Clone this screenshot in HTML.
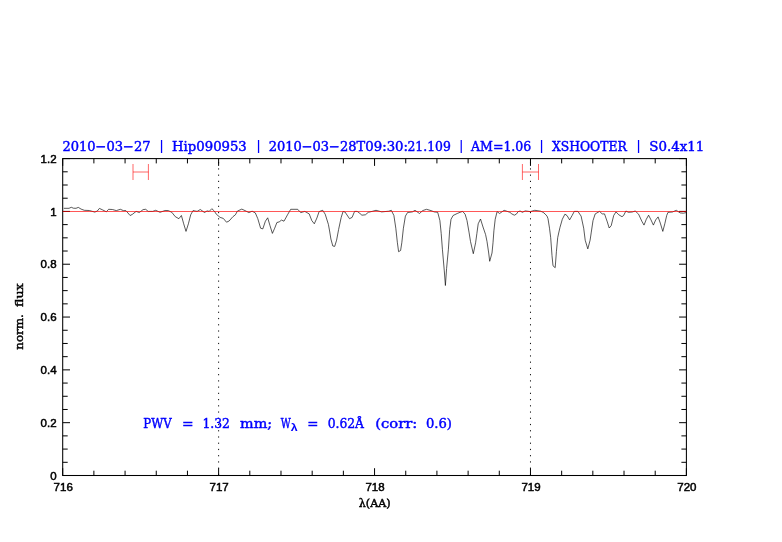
<!DOCTYPE html>
<html><head><meta charset="utf-8"><title>plot</title>
<style>
html,body{margin:0;padding:0;background:#fff;}
svg{display:block;}
.tk text{font-family:"Liberation Sans",sans-serif;font-size:11.5px;fill:#000;stroke:#000;stroke-width:0.5px;}
.bl text{font-family:"DejaVu Serif","Liberation Serif",serif;font-size:13.1px;fill:#0000ff;stroke:#0000ff;stroke-width:0.45px;}
.bl text.bar{font-size:13.5px;stroke-width:0.15px;}
.ax text{font-family:"DejaVu Serif","Liberation Serif",serif;font-size:11.5px;fill:#000;stroke:#000;stroke-width:0.45px;}
</style></head><body>
<svg width="782" height="542" viewBox="0 0 782 542">
<rect width="782" height="542" fill="#fff"/>
<path d="M218.62,158.6 V475.5 M530.48,158.6 V475.5" stroke="#000" stroke-width="0.95" stroke-dasharray="1.2 5.034" stroke-dashoffset="-3.5" fill="none"/>
<path d="M63.8,208.3 L69.0,208.3 L71.3,207.3 L73.4,208.2 L76.0,208.3 L78.3,207.4 L81.1,209.1 L84.3,210.3 L89.4,210.5 L94.8,212.1 L97.3,211.0 L99.4,208.4 L102.8,210.0 L106.3,211.8 L108.6,209.3 L112.4,209.5 L116.3,210.6 L120.4,209.3 L123.3,210.6 L125.9,210.6 L130.1,215.5 L132.3,214.4 L136.1,211.4 L139.3,212.5 L143.1,209.6 L145.7,209.3 L148.2,211.4 L152.7,211.4 L155.7,210.3 L160.0,212.3 L165.1,210.5 L168.3,210.6 L171.8,212.3 L175.3,216.7 L178.9,218.7 L181.4,215.5 L183.7,223.8 L186.0,231.4 L188.4,223.8 L190.7,214.8 L193.0,210.6 L197.1,211.4 L200.3,209.5 L204.5,212.5 L207.1,210.9 L209.2,211.4 L211.8,208.7 L214.3,211.0 L216.3,214.2 L220.1,217.4 L223.3,218.4 L226.5,222.2 L229.1,221.0 L232.9,216.7 L235.4,214.8 L237.4,211.1 L241.8,209.1 L245.0,210.6 L248.9,212.6 L252.1,211.2 L255.3,212.9 L257.8,218.7 L260.6,228.2 L262.8,228.9 L265.4,221.2 L267.7,217.8 L270.0,225.7 L272.4,233.4 L274.7,228.2 L276.9,222.5 L279.2,221.9 L281.5,220.1 L284.0,221.2 L287.5,214.8 L290.7,209.3 L297.7,209.3 L300.7,212.6 L304.8,211.4 L309.2,213.9 L311.8,220.6 L314.3,223.8 L316.9,218.0 L319.1,211.6 L322.7,210.3 L325.2,214.2 L328.4,224.4 L329.6,231.0 L330.9,239.0 L332.8,246.0 L334.7,246.4 L336.6,240.2 L338.6,229.5 L341.2,217.4 L343.1,211.4 L345.0,212.0 L349.5,218.7 L352.1,217.4 L354.6,211.4 L357.2,211.4 L360.0,213.5 L361.9,215.2 L365.4,214.8 L368.3,212.3 L372.1,211.4 L376.0,210.3 L381.7,211.9 L388.8,211.2 L391.3,210.3 L393.9,215.5 L395.8,228.2 L397.4,242.8 L398.6,251.7 L400.6,250.5 L401.8,242.8 L403.4,228.2 L405.4,216.1 L407.6,212.5 L412.4,211.9 L415.0,210.3 L419.5,213.5 L422.7,210.6 L426.5,209.3 L431.0,210.6 L434.2,211.9 L437.7,212.3 L439.9,220.6 L441.2,233.4 L442.4,249.2 L444.3,270.9 L445.4,285.5 L446.6,268.4 L448.4,249.2 L449.7,229.5 L451.0,219.3 L453.1,215.5 L457.2,213.5 L460.0,212.3 L462.6,211.4 L465.1,214.2 L467.0,220.6 L469.0,232.1 L470.5,241.5 L473.3,253.7 L475.6,242.8 L476.9,233.4 L478.2,223.8 L480.5,219.0 L483.0,227.0 L485.6,234.6 L487.0,241.5 L488.7,253.0 L489.7,261.3 L492.0,253.0 L493.0,242.8 L493.9,230.8 L495.2,219.3 L497.1,211.6 L499.6,213.5 L504.1,210.3 L509.9,212.3 L511.8,213.9 L514.3,215.2 L516.3,214.2 L518.2,211.6 L520.1,211.0 L522.4,212.3 L525.2,210.9 L530.3,211.6 L534.8,210.3 L540.6,211.2 L543.1,212.3 L545.0,213.9 L547.0,216.1 L548.0,218.7 L549.5,228.2 L550.7,237.7 L552.0,255.6 L553.0,265.8 L555.2,267.7 L556.4,251.7 L557.7,237.7 L558.7,233.0 L560.0,227.3 L562.3,219.3 L564.9,214.2 L567.0,215.5 L569.6,219.9 L572.1,215.5 L574.3,211.4 L577.9,211.4 L581.1,216.1 L583.7,228.2 L585.2,240.2 L587.8,248.9 L590.1,240.2 L591.3,232.1 L593.0,220.6 L595.2,213.9 L599.6,211.4 L602.2,213.9 L604.5,213.9 L607.3,221.9 L609.2,228.0 L611.2,225.7 L613.7,215.5 L616.0,211.9 L618.8,214.8 L622.0,216.7 L623.6,215.5 L625.9,211.0 L628.4,212.3 L632.3,212.0 L635.2,211.0 L638.6,214.2 L641.8,221.2 L644.0,225.1 L646.3,219.3 L648.6,215.2 L651.0,219.9 L653.4,225.1 L655.7,219.9 L658.1,216.9 L660.3,223.1 L662.8,231.4 L664.8,223.8 L666.7,215.5 L668.0,212.3 L672.4,212.0 L676.3,210.3 L680.1,212.9 L683.3,213.2 L686.2,212.6" stroke="#000" stroke-width="0.65" fill="none" stroke-linejoin="round"/>
<g stroke="#ff0000" stroke-width="0.8" fill="none" opacity="0.75">
<path d="M133,164 V180 M148.4,164 V180 M133,172 H148.4"/>
<path d="M522.4,164 V180 M538.5,164 V180 M522.4,172 H538.5"/>
</g>
<rect x="62.7" y="158.6" width="623.6999999999999" height="316.9" fill="none" stroke="#000" stroke-width="1.05"/>
<path d="M62.70,475.5 v-7.3 M62.70,158.6 v7.3 M93.89,475.5 v-4.8 M93.89,158.6 v4.8 M125.07,475.5 v-4.8 M125.07,158.6 v4.8 M156.26,475.5 v-4.8 M156.26,158.6 v4.8 M187.44,475.5 v-4.8 M187.44,158.6 v4.8 M218.62,475.5 v-7.3 M218.62,158.6 v7.3 M249.81,475.5 v-4.8 M249.81,158.6 v4.8 M280.99,475.5 v-4.8 M280.99,158.6 v4.8 M312.18,475.5 v-4.8 M312.18,158.6 v4.8 M343.36,475.5 v-4.8 M343.36,158.6 v4.8 M374.55,475.5 v-7.3 M374.55,158.6 v7.3 M405.74,475.5 v-4.8 M405.74,158.6 v4.8 M436.92,475.5 v-4.8 M436.92,158.6 v4.8 M468.11,475.5 v-4.8 M468.11,158.6 v4.8 M499.29,475.5 v-4.8 M499.29,158.6 v4.8 M530.48,475.5 v-7.3 M530.48,158.6 v7.3 M561.66,475.5 v-4.8 M561.66,158.6 v4.8 M592.84,475.5 v-4.8 M592.84,158.6 v4.8 M624.03,475.5 v-4.8 M624.03,158.6 v4.8 M655.21,475.5 v-4.8 M655.21,158.6 v4.8 M686.40,475.5 v-7.3 M686.40,158.6 v7.3 M62.7,475.50 h7.3 M686.4,475.50 h-7.3 M62.7,462.30 h5.0 M686.4,462.30 h-5.0 M62.7,449.09 h5.0 M686.4,449.09 h-5.0 M62.7,435.89 h5.0 M686.4,435.89 h-5.0 M62.7,422.68 h7.3 M686.4,422.68 h-7.3 M62.7,409.48 h5.0 M686.4,409.48 h-5.0 M62.7,396.27 h5.0 M686.4,396.27 h-5.0 M62.7,383.07 h5.0 M686.4,383.07 h-5.0 M62.7,369.87 h7.3 M686.4,369.87 h-7.3 M62.7,356.66 h5.0 M686.4,356.66 h-5.0 M62.7,343.46 h5.0 M686.4,343.46 h-5.0 M62.7,330.25 h5.0 M686.4,330.25 h-5.0 M62.7,317.05 h7.3 M686.4,317.05 h-7.3 M62.7,303.85 h5.0 M686.4,303.85 h-5.0 M62.7,290.64 h5.0 M686.4,290.64 h-5.0 M62.7,277.44 h5.0 M686.4,277.44 h-5.0 M62.7,264.23 h7.3 M686.4,264.23 h-7.3 M62.7,251.03 h5.0 M686.4,251.03 h-5.0 M62.7,237.83 h5.0 M686.4,237.83 h-5.0 M62.7,224.62 h5.0 M686.4,224.62 h-5.0 M62.7,211.42 h7.3 M686.4,211.42 h-7.3 M62.7,198.21 h5.0 M686.4,198.21 h-5.0 M62.7,185.01 h5.0 M686.4,185.01 h-5.0 M62.7,171.80 h5.0 M686.4,171.80 h-5.0 M62.7,158.60 h7.3 M686.4,158.60 h-7.3" stroke="#000" stroke-width="1" fill="none"/>
<path d="M62.7,211.5 H686.4" stroke="#ff0000" stroke-width="1" opacity="0.66" fill="none"/>
<g class="tk"><text x="63.2" y="490.5" text-anchor="middle">716</text><text x="219.1" y="490.5" text-anchor="middle">717</text><text x="375.0" y="490.5" text-anchor="middle">718</text><text x="531.0" y="490.5" text-anchor="middle">719</text><text x="686.9" y="490.5" text-anchor="middle">720</text><text x="56.6" y="479.6" text-anchor="end">0</text><text x="56.6" y="426.8" text-anchor="end">0.2</text><text x="56.6" y="374.0" text-anchor="end">0.4</text><text x="56.6" y="321.2" text-anchor="end">0.6</text><text x="56.6" y="268.3" text-anchor="end">0.8</text><text x="56.6" y="215.5" text-anchor="end">1</text><text x="56.6" y="162.7" text-anchor="end">1.2</text></g>
<g class="bl"><text x="62.4" y="150.5" textLength="88.2" lengthAdjust="spacingAndGlyphs">2010−03−27</text><text class="bar" x="161.5" y="149.6" text-anchor="middle">|</text><text x="172.1" y="150.5" textLength="74.7" lengthAdjust="spacingAndGlyphs">Hip090953</text><text class="bar" x="258.5" y="149.6" text-anchor="middle">|</text><text x="268.7" y="150.5" textLength="96.5" lengthAdjust="spacingAndGlyphs">2010−03−28T</text><text x="365.3" y="150.5" textLength="42.7" lengthAdjust="spacingAndGlyphs">09:30:</text><text x="407.5" y="150.5" textLength="43.3" lengthAdjust="spacingAndGlyphs">21.109</text><text class="bar" x="461.2" y="149.6" text-anchor="middle">|</text><text x="471.0" y="150.5" textLength="60.3" lengthAdjust="spacingAndGlyphs">AM=1.06</text><text class="bar" x="541.6" y="149.6" text-anchor="middle">|</text><text x="551.9" y="150.5" textLength="74.9" lengthAdjust="spacingAndGlyphs">XSHOOTER</text><text class="bar" x="638.5" y="149.6" text-anchor="middle">|</text><text x="649.3" y="150.5" textLength="55.0" lengthAdjust="spacingAndGlyphs">S0.4x11</text><text x="143.3" y="427.6" textLength="28.3" lengthAdjust="spacingAndGlyphs">PWV</text><text x="182.0" y="427.6" textLength="11.6" lengthAdjust="spacingAndGlyphs">=</text><text x="202.4" y="427.6" textLength="27.5" lengthAdjust="spacingAndGlyphs">1.32</text><text x="240" y="427.6" textLength="32.1" lengthAdjust="spacingAndGlyphs">mm;</text><text x="280.8" y="427.6" textLength="10.0" lengthAdjust="spacingAndGlyphs">W</text><text x="290.7" y="431.4" style="font-family:'Liberation Sans',sans-serif;font-size:10px;font-weight:bold;stroke-width:0" textLength="6.9" lengthAdjust="spacingAndGlyphs">λ</text><text x="307.2" y="427.6" textLength="11.2" lengthAdjust="spacingAndGlyphs">=</text><text x="327.7" y="427.6" textLength="36.3" lengthAdjust="spacingAndGlyphs">0.62Å</text><text x="375.3" y="427.6" textLength="42.0" lengthAdjust="spacingAndGlyphs">(corr:</text><text x="426" y="427.6" textLength="26.0" lengthAdjust="spacingAndGlyphs">0.6)</text></g>
<g class="ax"><text x="358.8" y="506.5" textLength="31.9" lengthAdjust="spacingAndGlyphs" style="font-size:11px">λ(AA)</text>
<g transform="translate(23.4,349.7) rotate(-90)"><text x="0" y="0" textLength="35.4" lengthAdjust="spacingAndGlyphs">norm.</text><text x="42.8" y="0" textLength="23.6" lengthAdjust="spacingAndGlyphs">flux</text></g></g>
</svg>
</body></html>
